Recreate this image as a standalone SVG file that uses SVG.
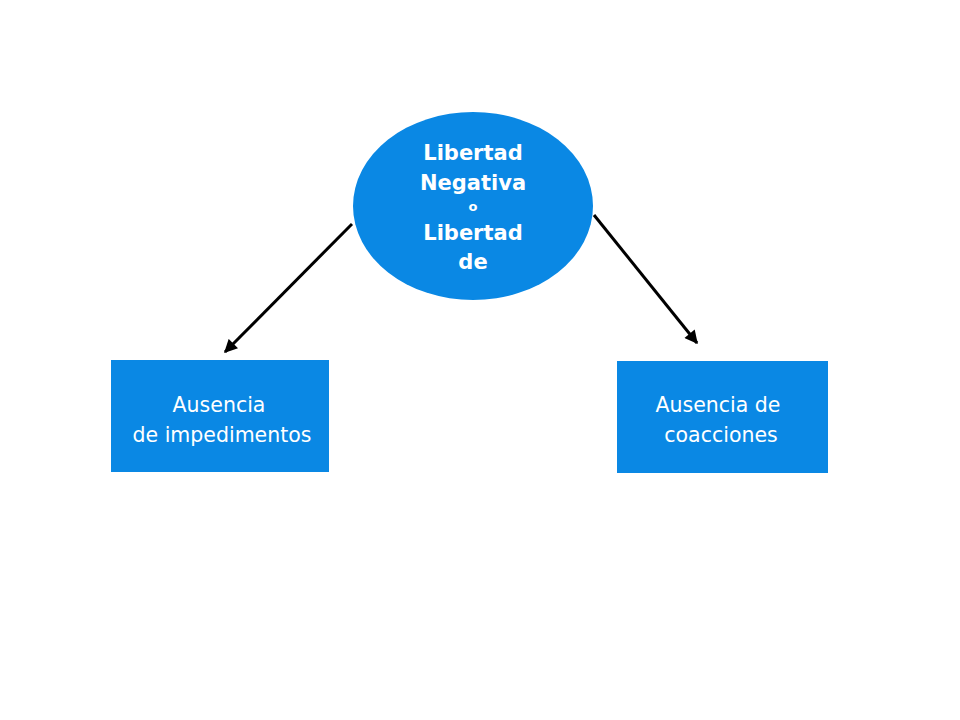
<svg xmlns="http://www.w3.org/2000/svg" width="960" height="720" viewBox="0 0 960 720">
<defs>
<style>
.node{fill:#0A88E4}
.t{font-family:"DejaVu Sans","Liberation Sans",sans-serif;fill:#fff;text-anchor:middle}
.b{font-weight:bold;font-size:21px}
.r{font-size:20.5px}
.conn{stroke:#000;stroke-width:3;fill:none;marker-end:url(#ah)}
</style>
<marker id="ah" viewBox="0 0 10 10" refX="9" refY="5" markerWidth="4.8" markerHeight="4.4" orient="auto" markerUnits="strokeWidth">
<path d="M0,0 L10,5 L0,10 z" fill="#000"/>
</marker>
</defs>
<rect width="960" height="720" fill="#fff"/>
<g id="connectors">
<line class="conn" x1="352" y1="224" x2="225" y2="352"/>
<line class="conn" x1="594" y1="215" x2="697" y2="343"/>
</g>
<g id="center">
<ellipse class="node" cx="473" cy="206" rx="120" ry="94"/>
<text class="t b" x="473" y="160">Libertad</text>
<text class="t b" x="473" y="190">Negativa</text>
<text class="t" x="473" y="211" font-size="13" font-weight="bold">o</text>
<text class="t b" x="473" y="240">Libertad</text>
<text class="t b" x="473" y="269">de</text>
</g>
<g id="left">
<rect class="node" x="111" y="360" width="218" height="112"/>
<text class="t r" x="219" y="412">Ausencia</text>
<text class="t r" x="222" y="442">de impedimentos</text>
</g>
<g id="right">
<rect class="node" x="617" y="361" width="211" height="112"/>
<text class="t r" x="718" y="412">Ausencia de</text>
<text class="t r" x="721" y="442">coacciones</text>
</g>
</svg>
